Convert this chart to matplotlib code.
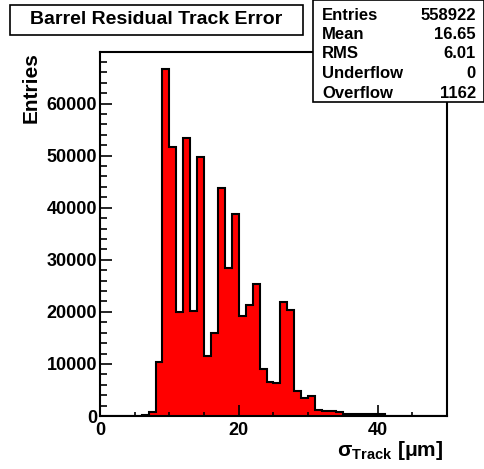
import numpy as np
import matplotlib
matplotlib.use('Agg')
import matplotlib.pyplot as plt
from matplotlib.patches import Rectangle
from matplotlib.ticker import MultipleLocator

plt.rcParams['font.family'] = ['Liberation Sans', 'DejaVu Sans']
plt.rcParams['font.weight'] = 'bold'
plt.rcParams['mathtext.fontset'] = 'custom'
plt.rcParams['mathtext.rm'] = 'Liberation Sans'
plt.rcParams['mathtext.bf'] = 'Liberation Sans:bold'
plt.rcParams['mathtext.it'] = 'Liberation Sans:italic'

# histogram: 50 bins of width 1 from 0 to 50 (entries per bin)
bin_lo = 0
bin_hi = 50
counts = [0, 0, 0, 0, 0, 0, 150, 700, 10400, 66700,
          51700, 19900, 53400, 20200, 49700, 11600, 16000, 43800, 28500, 38700,
          19200, 21300, 25400, 9000, 6600, 6300, 21800, 20300, 4800, 3400,
          3800, 1200, 1050, 900, 700, 450, 430, 410, 390, 360,
          320, 0, 0, 0, 0, 0, 0, 0, 0, 0]

title = 'Barrel Residual Track Error'
stats_names = ['Entries', 'Mean', 'RMS', 'Underflow', 'Overflow']
stats_values = ['558922', '16.65', '6.01', '0', '1162']

W, H = 485, 469


def fx(x):
    return x / W


def fy(y):
    return 1 - y / H


fig = plt.figure(figsize=(W / 100, H / 100), dpi=100)
ax = fig.add_axes([fx(100), fy(416), fx(447) - fx(100), fy(52) - fy(416)])

edges = np.linspace(bin_lo, bin_hi, len(counts) + 1)
ax.stairs(counts, edges, fill=True, facecolor='#ff0000', edgecolor='black', linewidth=1.5)

# top of the frame sits just under 70000, so that tick is not labelled
ax.set_xlim(0, 50)
ax.set_ylim(0, 69900)
ax.xaxis.set_major_locator(MultipleLocator(20))
ax.xaxis.set_minor_locator(MultipleLocator(5))
ax.yaxis.set_major_locator(MultipleLocator(10000))
ax.yaxis.set_minor_locator(MultipleLocator(2000))
ax.tick_params(axis='both', which='both', direction='in', width=1.2, labelsize=13)
ax.tick_params(axis='y', which='major', length=8.5, pad=2)
ax.tick_params(axis='y', which='minor', length=5)
ax.tick_params(axis='x', which='major', length=8, pad=4)
ax.tick_params(axis='x', which='minor', length=3)
for lab in ax.get_xticklabels() + ax.get_yticklabels():
    lab.set_fontweight('bold')
for sp in ax.spines.values():
    sp.set_linewidth(1.5)

# axis titles
fig.text(fx(31), fy(52), 'Entries', rotation=90, ha='center', va='top',
         fontsize=15, fontweight='bold')
fig.text(fx(443), fy(456),
         r'$\mathrm{\sigma}_{\mathbf{Track}}\ \mathbf{[}\mathrm{\mu}\mathbf{m]}$',
         ha='right', va='baseline', fontsize=15)

# title box
fig.add_artist(Rectangle((fx(10), fy(35)), fx(303) - fx(10), fy(5) - fy(35),
                         transform=fig.transFigure, facecolor='white',
                         edgecolor='black', linewidth=1.2, zorder=5))
fig.text(fx(156), fy(20), title, ha='center', va='center', fontsize=14,
         fontweight='bold', zorder=6)

# stats box
fig.add_artist(Rectangle((fx(313), fy(102)), fx(484) - fx(313), fy(0) - fy(102),
                         transform=fig.transFigure, facecolor='white',
                         edgecolor='black', linewidth=1.2, zorder=5))
for i, (name, val) in enumerate(zip(stats_names, stats_values)):
    y = 15 + i * 19.5
    fig.text(fx(322), fy(y), name, ha='left', va='center', fontsize=12,
             fontweight='bold', zorder=6)
    fig.text(fx(476), fy(y), val, ha='right', va='center', fontsize=12,
             fontweight='bold', zorder=6)

fig.savefig('out.png', dpi=100, facecolor='white')
